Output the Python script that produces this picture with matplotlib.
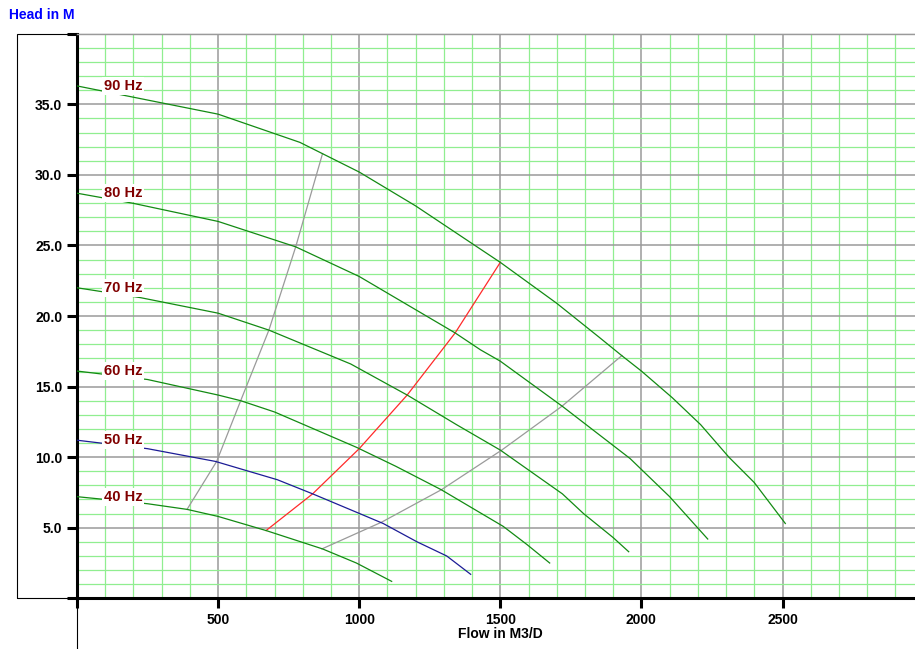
import matplotlib
matplotlib.use("Agg")
import matplotlib.pyplot as plt
from matplotlib.patches import Rectangle
from matplotlib.lines import Line2D
from matplotlib.ticker import MultipleLocator, FuncFormatter

plt.rcParams['font.family'] = ['Liberation Sans', 'DejaVu Sans']
plt.rcParams['font.weight'] = 'bold'

# Pump head curves at each drive frequency (flow in M3/D, head in M)
flow_90 = [0, 150, 500, 790, 870, 1000, 1200, 1500, 1700, 1850, 1930, 2000, 2110, 2210, 2310, 2400, 2510]
head_90 = [36.3, 35.7, 34.3, 32.3, 31.5, 30.2, 27.8, 23.8, 20.9, 18.5, 17.2, 16.1, 14.2, 12.3, 10.0, 8.2, 5.3]

flow_80 = [0, 195, 500, 775, 1000, 1340, 1430, 1500, 1720, 1960, 2100, 2235]
head_80 = [28.7, 28.0, 26.7, 24.9, 22.8, 18.8, 17.6, 16.8, 13.6, 9.9, 7.2, 4.2]

flow_70 = [0, 225, 500, 680, 970, 1170, 1345, 1500, 1720, 1795, 1900, 1955]
head_70 = [22.0, 21.3, 20.2, 19.0, 16.6, 14.4, 12.3, 10.5, 7.4, 6.0, 4.3, 3.3]

flow_60 = [0, 250, 500, 580, 700, 990, 1130, 1290, 1510, 1595, 1675]
head_60 = [16.1, 15.5, 14.4, 14.0, 13.2, 10.7, 9.35, 7.7, 5.1, 3.8, 2.5]

flow_50 = [0, 250, 490, 710, 835, 990, 1085, 1205, 1310, 1395]
head_50 = [11.2, 10.6, 9.7, 8.4, 7.4, 6.1, 5.3, 4.0, 3.0, 1.7]

flow_40 = [0, 250, 390, 500, 670, 870, 990, 1115]
head_40 = [7.2, 6.7, 6.3, 5.8, 4.8, 3.5, 2.5, 1.2]

# Operating range lines crossing the frequency curves
min_flow = [390, 495, 580, 680, 775, 870]
min_head = [6.3, 9.7, 14.0, 19.0, 24.9, 31.5]

bep_flow = [670, 835, 1000, 1170, 1340, 1500]
bep_head = [4.8, 7.4, 10.6, 14.4, 18.8, 23.8]

max_flow = [868, 1080, 1292, 1505, 1718, 1931]
max_head = [3.5, 5.4, 7.7, 10.5, 13.6, 17.2]

freq_labels = ['90 Hz', '80 Hz', '70 Hz', '60 Hz', '50 Hz', '40 Hz']
label_flow = 163

W, H = 915, 649
fig = plt.figure(figsize=(W / 100, H / 100), dpi=100)


def fx(px):
    return px / W


def fy(py):
    return 1 - py / H


x0, x1, y_top, y_bot = 77, 923.6, 33.7, 598.3
ax = fig.add_axes([fx(x0), fy(y_bot), (x1 - x0) / W, (y_bot - y_top) / H])
ax.set_xlim(0, 3000)
ax.set_ylim(0, 40)

# outer frame
fig.patches.append(Rectangle((fx(17), fy(y_bot)), fx(1000) , (y_bot - y_top) / H,
                             transform=fig.transFigure, fill=False,
                             edgecolor='black', lw=0.8, zorder=-1))
fig.lines.append(Line2D([fx(x0), fx(x0)], [fy(y_bot), 0], transform=fig.transFigure,
                        color='black', lw=0.8))

# grid
ax.xaxis.set_major_locator(MultipleLocator(500))
ax.yaxis.set_major_locator(MultipleLocator(5))
ax.xaxis.set_minor_locator(MultipleLocator(100))
ax.yaxis.set_minor_locator(MultipleLocator(1))
ax.grid(which='minor', color='#90ee90', lw=0.9)
ax.grid(which='major', color='#9a9a9a', lw=1.1)
ax.set_axisbelow(True)

ax.tick_params(which='minor', length=0)
ax.tick_params(which='major', direction='out', length=7.2, width=2.2, color='black',
               labelsize=10, pad=3.5)
ax.xaxis.set_major_formatter(FuncFormatter(lambda v, p: f'{v:.0f}' if 0 < v < 3000 else ''))
ax.yaxis.set_major_formatter(FuncFormatter(lambda v, p: f'{v:.1f}' if 0 < v < 40 else ''))
for lab in ax.get_xticklabels() + ax.get_yticklabels():
    lab.set_fontweight('bold')

ax.spines['left'].set_linewidth(2.2)
ax.spines['bottom'].set_linewidth(2.2)
ax.spines['top'].set_color('#9a9a9a')
ax.spines['top'].set_linewidth(1.0)
ax.spines['right'].set_visible(False)

green = '#138a13'
curves = [(flow_90, head_90, green), (flow_80, head_80, green), (flow_70, head_70, green),
          (flow_60, head_60, green), (flow_50, head_50, '#1c1c96'), (flow_40, head_40, green)]
for (fl, hd, col), lab in zip(curves, freq_labels):
    ax.plot(fl, hd, color=col, lw=0.9, zorder=3)
    ax.text(label_flow, hd[0], lab, color='#800000', fontsize=10.5, fontweight='bold',
            ha='center', va='center', zorder=5,
            bbox=dict(facecolor='white', edgecolor='none', pad=1.5))

ax.plot(min_flow, min_head, color='#9a9a9a', lw=0.9, zorder=2)
ax.plot(bep_flow, bep_head, color='#ff2a2a', lw=0.9, zorder=2)
ax.plot(max_flow, max_head, color='#9a9a9a', lw=0.9, zorder=2)

fig.text(fx(9), fy(15), 'Head in M', color='#0000ff', fontsize=10, fontweight='bold',
         ha='left', va='center')
fig.text(fx(500), fy(634), 'Flow in M3/D', color='black', fontsize=10, fontweight='bold',
         ha='center', va='center')

fig.savefig('out.png', dpi=100)
